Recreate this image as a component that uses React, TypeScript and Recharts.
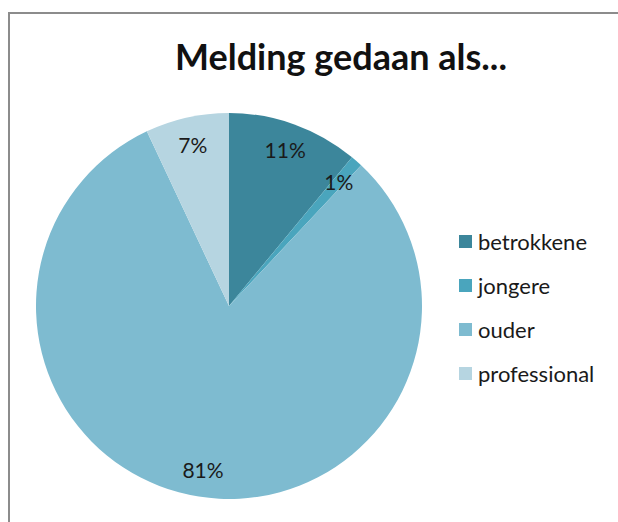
import { PieChart, Pie, Cell, Legend } from "recharts";

const categories = ["betrokkene", "jongere", "ouder", "professional"];
const values = [11, 1, 81, 7];
const colors = ["#3c869b", "#4aa5bd", "#7ebbd0", "#b6d5e1"];

const data = categories.map((name, i) => ({ name, value: values[i] }));

const RAD = Math.PI / 180;

function renderLabel(props: any) {
  const { cx, cy, midAngle, outerRadius, percent } = props;
  const r = outerRadius * 0.86;
  const x = cx + r * Math.cos(-midAngle * RAD);
  const y = cy + r * Math.sin(-midAngle * RAD);
  return (
    <text
      x={x}
      y={y}
      fill="#1a1a1a"
      fontSize={21}
      fontFamily="Lato, 'Open Sans', sans-serif"
      textAnchor="middle"
      dominantBaseline="central"
    >
      {Math.round(percent * 100) + "%"}
    </text>
  );
}

function LegendContent() {
  return (
    <div style={{ fontFamily: "Lato, 'Open Sans', sans-serif", fontSize: 22, color: "#1a1a1a" }}>
      {categories.map((c, i) => (
        <div
          key={c}
          style={{ display: "flex", alignItems: "center", height: 44, whiteSpace: "nowrap" }}
        >
          <span
            style={{
              display: "inline-block",
              width: 13,
              height: 13,
              background: colors[i],
              marginRight: 6,
            }}
          />
          {c}
        </div>
      ))}
    </div>
  );
}

export default function App() {
  return (
    <div
      style={{
        position: "absolute",
        left: 0,
        top: 0,
        width: 618,
        height: 522,
        overflow: "hidden",
        background: "#fff",
      }}
    >
      <div
        style={{
          position: "absolute",
          left: 8,
          top: 12,
          width: 700,
          height: 600,
          border: "2px solid #8c8c8c",
        }}
      />
      <div
        style={{
          position: "absolute",
          left: 0,
          top: 34,
          width: 682,
          textAlign: "center",
          fontFamily: "Lato, 'Open Sans', sans-serif",
          fontWeight: 700,
          fontSize: 36,
          color: "#111",
        }}
      >
        Melding gedaan als...
      </div>
      <div style={{ position: "absolute", left: 0, top: 0 }}>
        <PieChart width={618} height={522}>
          <Pie
            data={data}
            dataKey="value"
            nameKey="name"
            cx={224}
            cy={301}
            outerRadius={193}
            startAngle={90}
            endAngle={-270}
            stroke="none"
            label={renderLabel}
            labelLine={false}
            isAnimationActive={false}
          >
            {data.map((d, i) => (
              <Cell key={d.name} fill={colors[i]} />
            ))}
          </Pie>
          <Legend
            layout="vertical"
            content={<LegendContent />}
            wrapperStyle={{ left: 459, top: 219, width: 160 }}
          />
        </PieChart>
      </div>
    </div>
  );
}
